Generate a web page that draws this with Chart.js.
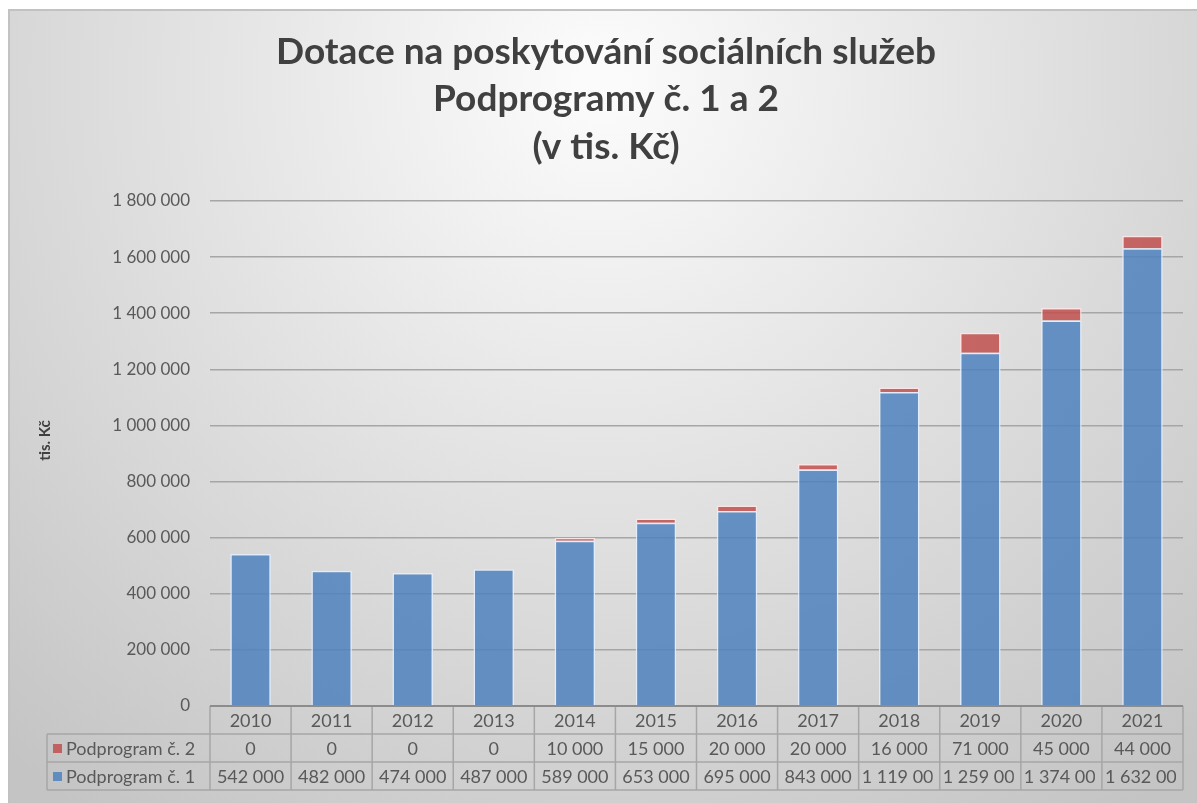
<!DOCTYPE html>
<html lang="cs">
<head>
<meta charset="UTF-8">
<title>Dotace na poskytování sociálních služeb</title>
<style>
  html, body { margin: 0; padding: 0; background: #fff; }
  #wrap { width: 1197px; height: 803px; position: relative; }
</style>
</head>
<body>
<div id="wrap"><canvas id="chart"></canvas></div>
<script src="https://cdn.jsdelivr.net/npm/chart.js@4.4.1/dist/chart.umd.min.js"></script>
<script>
// Data (v tis. Kč)
const years = ['2010', '2011', '2012', '2013', '2014', '2015', '2016', '2017', '2018', '2019', '2020', '2021'];
const podprogram1 = [542000, 482000, 474000, 487000, 589000, 653000, 695000, 843000, 1119000, 1259000, 1374000, 1632000];
const podprogram2 = [0, 0, 0, 0, 10000, 15000, 20000, 20000, 16000, 71000, 45000, 44000];
const yMax = 1800000;
const yStep = 200000;
const titleLines = ['Dotace na poskytování sociálních služeb', 'Podprogramy č. 1 a 2', '(v tis. Kč)'];
const yTitle = 'tis. Kč';

const FONT = 'Lato, "Open Sans", sans-serif';
const BLUE = 'rgba(79,129,189,0.85)';
const RED = 'rgba(192,80,77,0.85)';
const TEXT = '#595959';
const DARK = '#404040';
const LINE = '#a6a6a6';

// thousands separated by a space
const fmt = n => String(n).replace(/\B(?=(\d{3})+(?!\d))/g, ' ');

// gradient background of the chart area
const background = {
  id: 'background',
  beforeDraw(chart) {
    const {ctx, width, height} = chart;
    ctx.save();
    ctx.fillStyle = '#fff';
    ctx.fillRect(0, 0, width, height);
    const g = ctx.createRadialGradient(600, 80, 20, 600, 80, 900);
    g.addColorStop(0, '#fbfbfb');
    g.addColorStop(0.45, '#e2e2e2');
    g.addColorStop(1, '#c4c4c4');
    ctx.fillStyle = g;
    ctx.fillRect(9, 10, width - 9, height - 10);
    ctx.strokeStyle = '#c2c2c2';
    ctx.lineWidth = 2;
    ctx.beginPath();
    ctx.moveTo(9, height);
    ctx.lineTo(9, 10);
    ctx.lineTo(width, 10);
    ctx.stroke();
    ctx.restore();
  }
};

// three-line heading and the rotated value-axis caption
const headings = {
  id: 'headings',
  afterDraw(chart) {
    const {ctx, chartArea} = chart;
    ctx.save();
    ctx.fillStyle = DARK;
    ctx.textAlign = 'center';
    ctx.textBaseline = 'middle';
    ctx.font = 'bold 37px ' + FONT;
    const cx = 606;
    titleLines.forEach((t, i) => ctx.fillText(t, cx, 52 + i * 47.5));

    ctx.font = 'bold 15px ' + FONT;
    ctx.translate(45, (chartArea.top + chartArea.bottom) / 2 - 13);
    ctx.rotate(-Math.PI / 2);
    ctx.fillText(yTitle, 0, 0);
    ctx.restore();
  }
};

// data table drawn under the category axis
const dataTable = {
  id: 'dataTable',
  afterDraw(chart) {
    const {ctx, chartArea, scales: {x}} = chart;
    const rowH = 28;
    const top = chartArea.bottom;
    const half = (chartArea.right - chartArea.left) / years.length / 2;
    const legendLeft = 47;
    const rows = [
      {label: 'Podprogram č. 2', color: RED, values: podprogram2},
      {label: 'Podprogram č. 1', color: BLUE, values: podprogram1}
    ];
    const edges = years.map((_, i) => x.getPixelForValue(i) - half);
    edges.push(x.getPixelForValue(years.length - 1) + half);

    ctx.save();
    ctx.strokeStyle = LINE;
    ctx.lineWidth = 1.5;
    ctx.beginPath();
    for (let r = 1; r <= 3; r++) {
      ctx.moveTo(legendLeft, top + r * rowH);
      ctx.lineTo(chartArea.right, top + r * rowH);
    }
    edges.forEach(e => {
      ctx.moveTo(e, top);
      ctx.lineTo(e, top + 3 * rowH);
    });
    ctx.moveTo(legendLeft, top + rowH);
    ctx.lineTo(legendLeft, top + 3 * rowH);
    ctx.stroke();

    // axis line
    ctx.strokeStyle = '#8c8c8c';
    ctx.lineWidth = 2;
    ctx.beginPath();
    ctx.moveTo(chartArea.left, top);
    ctx.lineTo(chartArea.right, top);
    ctx.stroke();

    ctx.font = '18px ' + FONT;
    ctx.fillStyle = TEXT;
    ctx.textBaseline = 'middle';
    ctx.textAlign = 'center';
    years.forEach((y, i) => ctx.fillText(y, x.getPixelForValue(i), top + rowH / 2 + 1));

    rows.forEach((row, r) => {
      const cy = top + (r + 1.5) * rowH + 1;
      ctx.fillStyle = row.color;
      ctx.fillRect(legendLeft + 6, cy - 5, 9, 9);
      ctx.fillStyle = TEXT;
      ctx.textAlign = 'left';
      ctx.fillText(row.label, legendLeft + 19, cy);
      row.values.forEach((v, i) => {
        const txt = fmt(v);
        const l = edges[i], w = edges[i + 1] - edges[i];
        if (ctx.measureText(txt).width > w - 6) {
          // too wide for the cell: cut off at the right edge
          ctx.save();
          ctx.beginPath();
          ctx.rect(l, cy - rowH / 2, w - 7, rowH);
          ctx.clip();
          ctx.textAlign = 'left';
          ctx.fillText(txt, l + 3, cy);
          ctx.restore();
        } else {
          ctx.textAlign = 'center';
          ctx.fillText(txt, l + w / 2, cy);
        }
      });
    });
    ctx.restore();
  }
};

new Chart(document.getElementById('chart'), {
  type: 'bar',
  data: {
    labels: years,
    datasets: [
      {
        label: 'Podprogram č. 1',
        data: podprogram1,
        backgroundColor: BLUE,
        borderColor: 'rgba(225,238,255,0.9)',
        borderWidth: 1.5,
        barPercentage: 0.5,
        categoryPercentage: 1
      },
      {
        label: 'Podprogram č. 2',
        data: podprogram2,
        backgroundColor: RED,
        borderColor: 'rgba(255,228,228,0.9)',
        borderWidth: 1.5,
        barPercentage: 0.5,
        categoryPercentage: 1
      }
    ]
  },
  options: {
    responsive: true,
    maintainAspectRatio: false,
    devicePixelRatio: 1,
    animation: false,
    layout: { padding: { left: 10, right: 14, top: 201, bottom: 13 } },
    plugins: {
      legend: { display: false },
      tooltip: { enabled: false },
      title: { display: false }
    },
    scales: {
      x: {
        stacked: true,
        grid: { display: false },
        border: { display: false },
        ticks: { display: false },
        afterFit(scale) { scale.height = 84; }
      },
      y: {
        stacked: true,
        min: 0,
        max: yMax,
        afterFit(scale) { scale.width = 200; },
        border: { display: false },
        grid: { color: LINE, lineWidth: 1.5, drawTicks: false },
        ticks: {
          stepSize: yStep,
          padding: 20,
          color: TEXT,
          font: { family: FONT, size: 17 },
          callback: v => fmt(v)
        }
      }
    }
  },
  plugins: [background, headings, dataTable]
});
</script>
</body>
</html>
